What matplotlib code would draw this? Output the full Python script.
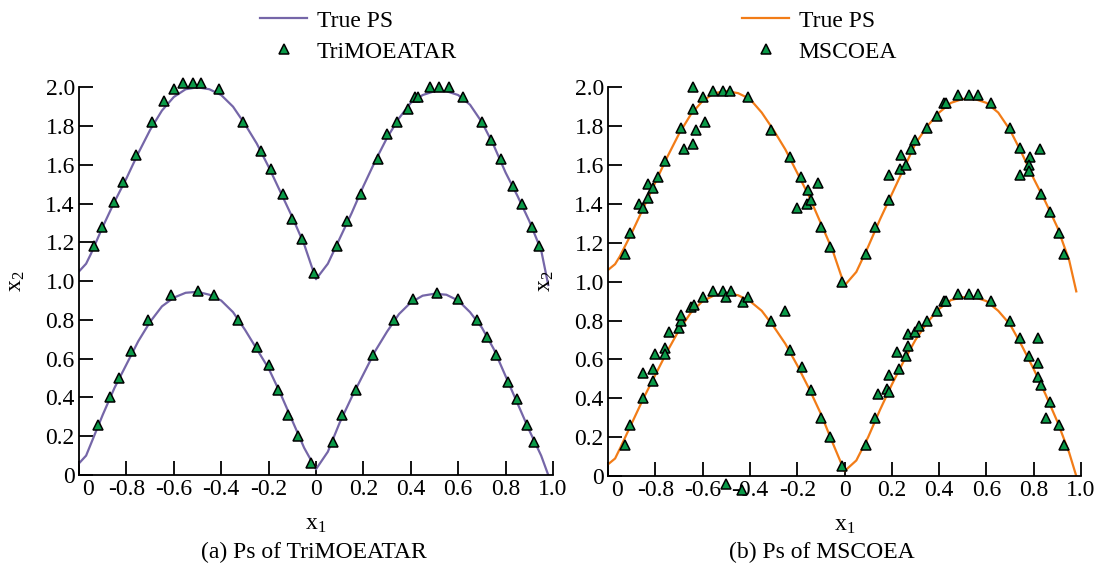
import matplotlib
matplotlib.use("Agg")
import matplotlib.pyplot as plt
from matplotlib.lines import Line2D
from matplotlib.transforms import ScaledTranslation

plt.rcParams["font.family"] = ["Liberation Serif", "DejaVu Serif"]
plt.rcParams["mathtext.fontset"] = "custom"
plt.rcParams["mathtext.rm"] = "Liberation Serif"
plt.rcParams["mathtext.it"] = "Liberation Serif:italic"

# ============================== Data

x_ticks = [-1.0, -0.8, -0.6, -0.4, -0.2, 0.0, 0.2, 0.4, 0.6, 0.8, 1.0]
x_tick_labels = ["0", "-0.8", "-0.6", "-0.4", "-0.2", "0", "0.2", "0.4", "0.6", "0.8", "1.0"]
y_ticks = [0.0, 0.2, 0.4, 0.6, 0.8, 1.0, 1.2, 1.4, 1.6, 1.8, 2.0]
y_tick_labels = ["0", "0.2", "0.4", "0.6", "0.8", "1.0", "1.2", "1.4", "1.6", "1.8", "2.0"]

# True PS, panel (a)
ps_a_x = [-1.00, -0.97, -0.95, -0.90, -0.85, -0.80, -0.75, -0.70, -0.65, -0.60, -0.55,
          -0.50, -0.45, -0.40, -0.35, -0.30, -0.25, -0.20, -0.15, -0.10, -0.05, 0.00,
          0.05, 0.10, 0.15, 0.20, 0.25, 0.30, 0.35, 0.40, 0.45, 0.50, 0.55, 0.60,
          0.65, 0.70, 0.75, 0.80, 0.85, 0.90, 0.95, 0.98]
ps_a_up = [1.05, 1.09, 1.14, 1.28, 1.41, 1.53, 1.66, 1.78, 1.88, 1.95, 1.99,
           2.00, 1.99, 1.96, 1.90, 1.81, 1.71, 1.59, 1.46, 1.33, 1.19, 1.01,
           1.09, 1.22, 1.35, 1.49, 1.62, 1.74, 1.84, 1.92, 1.96, 1.98, 1.98, 1.96,
           1.91, 1.82, 1.70, 1.56, 1.44, 1.31, 1.16, 0.98]
ps_a_low = [0.06, 0.10, 0.16, 0.31, 0.45, 0.57, 0.69, 0.79, 0.87, 0.915, 0.94,
            0.945, 0.93, 0.90, 0.84, 0.75, 0.65, 0.55, 0.42, 0.28, 0.14, 0.03,
            0.12, 0.27, 0.40, 0.52, 0.64, 0.74, 0.83, 0.89, 0.925, 0.935, 0.93, 0.90,
            0.84, 0.76, 0.65, 0.51, 0.37, 0.23, 0.10, 0.00]

# True PS, panel (b)
ps_b_x = ps_a_x
ps_b_up = [1.06, 1.09, 1.13, 1.25, 1.38, 1.51, 1.64, 1.76, 1.86, 1.93, 1.97,
           1.98, 1.97, 1.94, 1.87, 1.78, 1.68, 1.56, 1.44, 1.30, 1.16, 0.98,
           1.05, 1.18, 1.32, 1.45, 1.58, 1.71, 1.80, 1.87, 1.92, 1.94, 1.94, 1.92,
           1.87, 1.78, 1.66, 1.53, 1.41, 1.28, 1.11, 0.95]
ps_b_low = [0.06, 0.09, 0.14, 0.27, 0.40, 0.52, 0.64, 0.75, 0.84, 0.90, 0.93,
            0.94, 0.93, 0.90, 0.85, 0.77, 0.68, 0.57, 0.45, 0.32, 0.17, 0.025,
            0.08, 0.20, 0.34, 0.47, 0.59, 0.70, 0.79, 0.86, 0.905, 0.92, 0.92, 0.90,
            0.85, 0.78, 0.67, 0.55, 0.42, 0.28, 0.12, 0.00]

# TriMOEATAR
tri_up_x = [-0.935, -0.905, -0.853, -0.813, -0.76, -0.69, -0.64, -0.60, -0.56, -0.52,
            -0.485, -0.41, -0.31, -0.23, -0.19, -0.14, -0.10, -0.06, -0.01, 0.09,
            0.13, 0.19, 0.26, 0.30, 0.34, 0.39, 0.416, 0.43, 0.48, 0.52,
            0.56, 0.62, 0.70, 0.74, 0.78, 0.83, 0.87, 0.91, 0.94]
tri_up_y = [1.18, 1.28, 1.41, 1.51, 1.65, 1.82, 1.93, 1.99, 2.02, 2.02,
            2.02, 1.99, 1.82, 1.67, 1.58, 1.45, 1.32, 1.22, 1.04, 1.18,
            1.31, 1.45, 1.63, 1.76, 1.82, 1.89, 1.95, 1.95, 2.00, 2.00,
            2.00, 1.95, 1.82, 1.73, 1.63, 1.49, 1.40, 1.28, 1.18]
tri_low_x = [-0.92, -0.87, -0.83, -0.78, -0.71, -0.61, -0.50, -0.43, -0.33, -0.25,
             -0.20, -0.16, -0.12, -0.075, -0.02, 0.07, 0.11, 0.17, 0.24, 0.33,
             0.41, 0.51, 0.60, 0.68, 0.72, 0.76, 0.81, 0.85, 0.89, 0.92]
tri_low_y = [0.26, 0.40, 0.50, 0.64, 0.80, 0.93, 0.95, 0.93, 0.80, 0.66,
             0.57, 0.44, 0.31, 0.20, 0.06, 0.17, 0.31, 0.44, 0.62, 0.80,
             0.91, 0.94, 0.91, 0.80, 0.71, 0.62, 0.48, 0.39, 0.26, 0.17]

# MSCOEA
ms_up_x = [-0.93, -0.905, -0.87, -0.85, -0.83, -0.83, -0.81, -0.79, -0.76, -0.69,
           -0.68, -0.64, -0.63, -0.64, -0.64, -0.59, -0.60, -0.555, -0.515, -0.485,
           -0.41, -0.31, -0.23, -0.185, -0.155, -0.11, -0.20, -0.16, -0.14, -0.10,
           -0.06, -0.01, 0.09, 0.13, 0.19, 0.19, 0.235, 0.26, 0.24, 0.28,
           0.30, 0.35, 0.39, 0.42, 0.43, 0.48, 0.525, 0.565, 0.62, 0.70,
           0.74, 0.825, 0.785, 0.78, 0.78, 0.74, 0.83, 0.87, 0.905, 0.93]
ms_up_y = [1.14, 1.25, 1.40, 1.38, 1.43, 1.50, 1.48, 1.54, 1.62, 1.79,
           1.68, 1.71, 1.78, 1.89, 2.00, 1.82, 1.95, 1.98, 1.98, 1.98,
           1.95, 1.78, 1.64, 1.54, 1.47, 1.51, 1.38, 1.40, 1.42, 1.28,
           1.18, 1.00, 1.14, 1.28, 1.42, 1.55, 1.58, 1.60, 1.65, 1.68,
           1.73, 1.79, 1.85, 1.92, 1.92, 1.96, 1.96, 1.96, 1.92, 1.79,
           1.69, 1.68, 1.64, 1.60, 1.57, 1.55, 1.45, 1.36, 1.25, 1.14]
ms_low_x = [-0.93, -0.905, -0.85, -0.85, -0.81, -0.81, -0.80, -0.76, -0.76, -0.74,
            -0.70, -0.69, -0.69, -0.65, -0.635, -0.60, -0.555, -0.515, -0.50, -0.48,
            -0.43, -0.41, -0.31, -0.25, -0.23, -0.18, -0.14, -0.10, -0.06, -0.01,
            -0.50, -0.435, 0.09, 0.13, 0.14, 0.18, 0.19, 0.19, 0.23, 0.22,
            0.26, 0.27, 0.27, 0.30, 0.315, 0.35, 0.39, 0.42, 0.43, 0.48,
            0.525, 0.565, 0.62, 0.70, 0.74, 0.82, 0.78, 0.82, 0.82, 0.83,
            0.87, 0.85, 0.905, 0.93]
ms_low_y = [0.16, 0.26, 0.40, 0.53, 0.49, 0.55, 0.63, 0.66, 0.63, 0.74,
            0.76, 0.80, 0.83, 0.87, 0.88, 0.92, 0.95, 0.95, 0.92, 0.95,
            0.895, 0.92, 0.80, 0.85, 0.65, 0.56, 0.44, 0.30, 0.20, 0.05,
            -0.04, -0.07, 0.16, 0.30, 0.42, 0.45, 0.43, 0.52, 0.55, 0.64,
            0.62, 0.67, 0.73, 0.74, 0.77, 0.80, 0.85, 0.90, 0.90, 0.935,
            0.935, 0.935, 0.90, 0.80, 0.71, 0.71, 0.62, 0.58, 0.51, 0.47,
            0.38, 0.30, 0.26, 0.16]

PURPLE = "#7566a8"
ORANGE = "#f27c17"
GREEN = "#0a9a48"
FS = 17

W, H = 1103, 567
fig = plt.figure(figsize=(W / 100, H / 100), dpi=100)


def px_axes(left, top, right, bottom):
    return fig.add_axes([left / W, 1 - bottom / H, (right - left) / W, (bottom - top) / H])


def draw_panel(ax, xs, up, low, mx_up, my_up, mx_low, my_low, color, name, leg_xy, caption, cap_x):
    ax.plot(xs, up, color=color, lw=1.6, zorder=2)
    ax.plot(xs, low, color=color, lw=1.6, zorder=2)
    kw = dict(ls="none", marker="^", ms=6.5, mfc=GREEN, mec="black", mew=1.1,
              clip_on=False, zorder=3)
    ax.plot(mx_up, my_up, **kw)
    ax.plot(mx_low, my_low, **kw)

    ax.set_xlim(-1, 1)
    ax.set_ylim(0, 2.0)
    ax.set_xticks(x_ticks)
    ax.set_xticklabels(x_tick_labels)
    ax.set_yticks(y_ticks)
    ax.set_yticklabels(y_tick_labels)
    ax.tick_params(direction="in", length=10, width=1.3, labelsize=FS, pad=3)
    for s in ("top", "right"):
        ax.spines[s].set_visible(False)
    for s in ("left", "bottom"):
        ax.spines[s].set_linewidth(1.3)

    # le "0" sous x=-1 est décalé vers la droite dans l'original
    lab = ax.get_xticklabels()[0]
    lab.set_transform(lab.get_transform() + ScaledTranslation(9 / 100, 0, fig.dpi_scale_trans))

    ax.set_xlabel(r"$\mathrm{x_1}$", fontsize=FS, labelpad=10)
    ax.set_ylabel(r"$\mathrm{x_2}$", fontsize=FS, labelpad=13)

    handles = [Line2D([], [], color=color, lw=1.6),
               Line2D([], [], ls="none", marker="^", ms=6.5, mfc=GREEN, mec="black", mew=1.1)]
    ax.legend(handles, ["True PS", name], loc="upper left",
              bbox_to_anchor=(leg_xy[0] / W, 1 - leg_xy[1] / H), bbox_transform=fig.transFigure,
              frameon=False, fontsize=FS, handlelength=2.0, handletextpad=0.4,
              labelspacing=0.4, borderpad=0, borderaxespad=0, numpoints=1)

    fig.text(cap_x / W, 1 - 552 / H, caption, fontsize=FS, ha="center", va="center")


ax_a = px_axes(79, 87.3, 553, 475)
ax_b = px_axes(608, 87.3, 1081, 476)

draw_panel(ax_a, ps_a_x, ps_a_up, ps_a_low, tri_up_x, tri_up_y, tri_low_x, tri_low_y,
           PURPLE, "TriMOEATAR", (260, 10), "(a) Ps of TriMOEATAR", 314)
draw_panel(ax_b, ps_b_x, ps_b_up, ps_b_low, ms_up_x, ms_up_y, ms_low_x, ms_low_y,
           ORANGE, "MSCOEA", (742, 10), "(b) Ps of MSCOEA", 822)

fig.savefig("out.png", dpi=100)
